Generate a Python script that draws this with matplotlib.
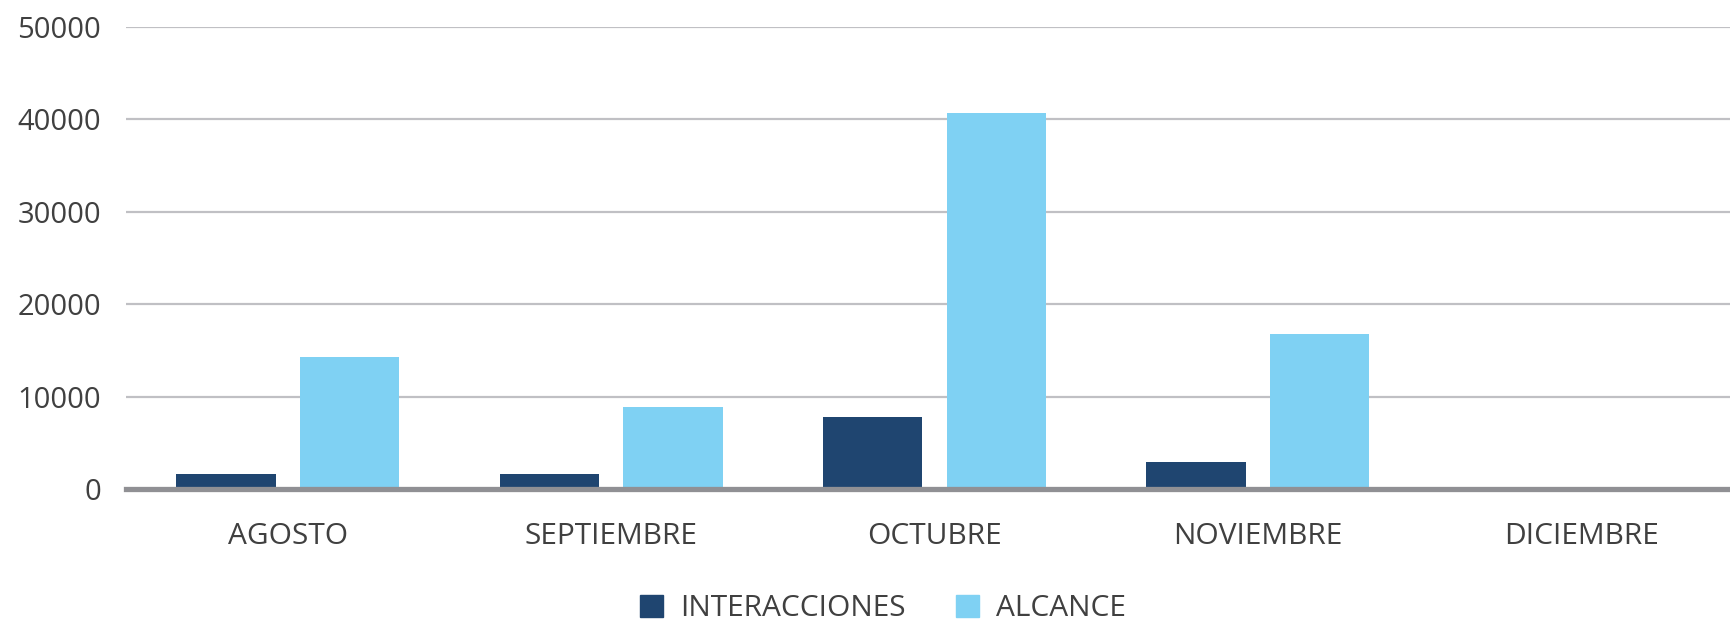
import numpy as np
import matplotlib.pyplot as plt
from matplotlib.patches import Patch

# data
months = ["AGOSTO", "SEPTIEMBRE", "OCTUBRE", "NOVIEMBRE", "DICIEMBRE"]
interacciones = [1600, 1600, 7750, 2950, 0]
alcance = [14300, 8900, 40700, 16750, 0]

dark_blue = "#1F4570"
light_blue = "#7FD1F3"
text_color = "#404040"

plt.rcParams["font.family"] = ["Open Sans", "DejaVu Sans"]

W, H = 1731, 621
fig = plt.figure(figsize=(W / 100, H / 100), dpi=100)
# plot area runs a little past the right edge, as in the reference
ax = fig.add_axes([126 / W, 1 - 489 / H, 1617 / W, (489 - 27) / H])

x = np.arange(len(months))
width = 0.307
ax.bar(x - 0.191, interacciones, width, color=dark_blue, zorder=3)
ax.bar(x + 0.191, alcance, width, color=light_blue, zorder=3)

ax.set_xlim(-0.5, len(months) - 0.5)
ax.set_ylim(0, 50000)
ax.set_yticks(range(0, 50001, 10000))
ax.set_xticks(x)
ax.set_xticklabels(months)

# gridlines and baseline
ax.grid(axis="y", color="#C0C0C4", linewidth=1.6, zorder=0)
ax.axhline(0, color="#909094", linewidth=3.8, zorder=4, clip_on=False)
for side in ["top", "right", "left", "bottom"]:
    ax.spines[side].set_visible(False)

ax.tick_params(axis="both", length=0, colors=text_color)
ax.tick_params(axis="y", pad=18, labelsize=21)
ax.tick_params(axis="x", pad=24, labelsize=21.5)

handles = [Patch(color=dark_blue, label="INTERACCIONES"),
           Patch(color=light_blue, label="ALCANCE")]
fig.legend(handles=handles, loc="center", bbox_to_anchor=(883 / W, 1 - 609 / H),
           ncol=2, frameon=False, fontsize=21.5, labelcolor=text_color,
           handlelength=0.77, handleheight=0.77, handletextpad=0.6,
           columnspacing=1.65)

fig.savefig("out.png", dpi=100)
